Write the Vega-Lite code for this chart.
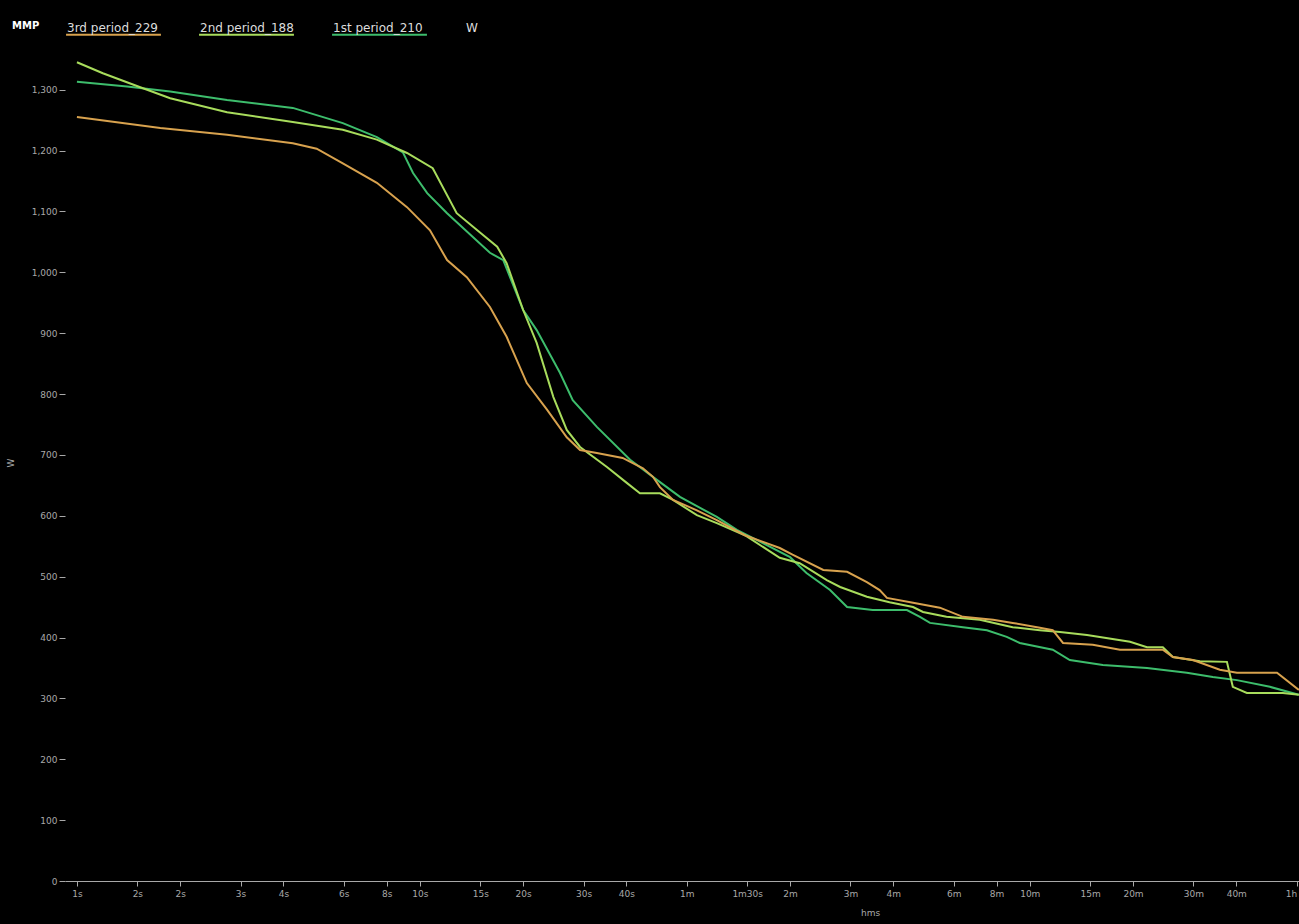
{
  "$schema": "https://vega.github.io/schema/vega-lite/v6.json",
  "width": 1234,
  "height": 837,
  "autosize": {"type": "none"},
  "padding": {"left": 65, "top": 44, "right": 0, "bottom": 43},
  "background": "#000000",
  "config": {
    "view": {"stroke": null},
    "font": "DejaVu Sans",
    "axis": {"grid": false, "labelColor": "#a8a8a8", "tickColor": "#a8a8a8", "domainColor": "#a8a8a8", "labelFont": "DejaVu Sans", "labelFontSize": 9, "titleColor": "#a8a8a8", "titleFont": "DejaVu Sans", "titleFontSize": 9, "titleFontWeight": "normal"}
  },
  "data": {"values": [
    {"p": "1st period_210", "t": 1, "w": 1313},
    {"p": "1st period_210", "t": 1.4, "w": 1305},
    {"p": "1st period_210", "t": 1.87, "w": 1297},
    {"p": "1st period_210", "t": 2.74, "w": 1283},
    {"p": "1st period_210", "t": 4.26, "w": 1270},
    {"p": "1st period_210", "t": 5.96, "w": 1245},
    {"p": "1st period_210", "t": 7.49, "w": 1222},
    {"p": "1st period_210", "t": 8.92, "w": 1197},
    {"p": "1st period_210", "t": 9.55, "w": 1163},
    {"p": "1st period_210", "t": 10.5, "w": 1130},
    {"p": "1st period_210", "t": 12.0, "w": 1097},
    {"p": "1st period_210", "t": 16.0, "w": 1032},
    {"p": "1st period_210", "t": 17.5, "w": 1020},
    {"p": "1st period_210", "t": 20.0, "w": 938},
    {"p": "1st period_210", "t": 21.9, "w": 905},
    {"p": "1st period_210", "t": 25.6, "w": 835},
    {"p": "1st period_210", "t": 27.9, "w": 790},
    {"p": "1st period_210", "t": 32.8, "w": 746},
    {"p": "1st period_210", "t": 41.0, "w": 692},
    {"p": "1st period_210", "t": 49.1, "w": 659},
    {"p": "1st period_210", "t": 57.3, "w": 631},
    {"p": "1st period_210", "t": 73.4, "w": 598},
    {"p": "1st period_210", "t": 84, "w": 577},
    {"p": "1st period_210", "t": 100, "w": 555},
    {"p": "1st period_210", "t": 120, "w": 532},
    {"p": "1st period_210", "t": 134, "w": 506},
    {"p": "1st period_210", "t": 157, "w": 478},
    {"p": "1st period_210", "t": 176, "w": 450},
    {"p": "1st period_210", "t": 209, "w": 445},
    {"p": "1st period_210", "t": 263, "w": 445},
    {"p": "1st period_210", "t": 287, "w": 434},
    {"p": "1st period_210", "t": 307, "w": 424},
    {"p": "1st period_210", "t": 383, "w": 417},
    {"p": "1st period_210", "t": 450, "w": 412},
    {"p": "1st period_210", "t": 514, "w": 401},
    {"p": "1st period_210", "t": 561, "w": 391},
    {"p": "1st period_210", "t": 700, "w": 380},
    {"p": "1st period_210", "t": 785, "w": 363},
    {"p": "1st period_210", "t": 980, "w": 355},
    {"p": "1st period_210", "t": 1318, "w": 350},
    {"p": "1st period_210", "t": 1722, "w": 342},
    {"p": "1st period_210", "t": 2050, "w": 335},
    {"p": "1st period_210", "t": 2410, "w": 330},
    {"p": "1st period_210", "t": 3008, "w": 319},
    {"p": "1st period_210", "t": 3654, "w": 306},
    {"p": "2nd period_188", "t": 1, "w": 1345},
    {"p": "2nd period_188", "t": 1.19, "w": 1327},
    {"p": "2nd period_188", "t": 1.53, "w": 1304},
    {"p": "2nd period_188", "t": 1.87, "w": 1286},
    {"p": "2nd period_188", "t": 2.74, "w": 1263},
    {"p": "2nd period_188", "t": 4.26, "w": 1247},
    {"p": "2nd period_188", "t": 5.96, "w": 1234},
    {"p": "2nd period_188", "t": 7.49, "w": 1218},
    {"p": "2nd period_188", "t": 9.17, "w": 1196},
    {"p": "2nd period_188", "t": 10.9, "w": 1171},
    {"p": "2nd period_188", "t": 12.8, "w": 1097},
    {"p": "2nd period_188", "t": 15.0, "w": 1065},
    {"p": "2nd period_188", "t": 16.8, "w": 1042},
    {"p": "2nd period_188", "t": 17.9, "w": 1015},
    {"p": "2nd period_188", "t": 20.0, "w": 938},
    {"p": "2nd period_188", "t": 21.9, "w": 884},
    {"p": "2nd period_188", "t": 24.5, "w": 795},
    {"p": "2nd period_188", "t": 26.8, "w": 741},
    {"p": "2nd period_188", "t": 29.3, "w": 713},
    {"p": "2nd period_188", "t": 35.1, "w": 680},
    {"p": "2nd period_188", "t": 40.1, "w": 654},
    {"p": "2nd period_188", "t": 43.8, "w": 637},
    {"p": "2nd period_188", "t": 50.1, "w": 637},
    {"p": "2nd period_188", "t": 54.7, "w": 626},
    {"p": "2nd period_188", "t": 64.2, "w": 601},
    {"p": "2nd period_188", "t": 73.4, "w": 588},
    {"p": "2nd period_188", "t": 88.6, "w": 568},
    {"p": "2nd period_188", "t": 112, "w": 531},
    {"p": "2nd period_188", "t": 128, "w": 522},
    {"p": "2nd period_188", "t": 154, "w": 494},
    {"p": "2nd period_188", "t": 168, "w": 483},
    {"p": "2nd period_188", "t": 201, "w": 467},
    {"p": "2nd period_188", "t": 234, "w": 458},
    {"p": "2nd period_188", "t": 274, "w": 450},
    {"p": "2nd period_188", "t": 293, "w": 442},
    {"p": "2nd period_188", "t": 343, "w": 434},
    {"p": "2nd period_188", "t": 429, "w": 429},
    {"p": "2nd period_188", "t": 535, "w": 417},
    {"p": "2nd period_188", "t": 642, "w": 412},
    {"p": "2nd period_188", "t": 735, "w": 409},
    {"p": "2nd period_188", "t": 881, "w": 404},
    {"p": "2nd period_188", "t": 1176, "w": 393},
    {"p": "2nd period_188", "t": 1318, "w": 384},
    {"p": "2nd period_188", "t": 1466, "w": 384},
    {"p": "2nd period_188", "t": 1568, "w": 368},
    {"p": "2nd period_188", "t": 1880, "w": 361},
    {"p": "2nd period_188", "t": 2254, "w": 360},
    {"p": "2nd period_188", "t": 2345, "w": 319},
    {"p": "2nd period_188", "t": 2577, "w": 309},
    {"p": "2nd period_188", "t": 3281, "w": 309},
    {"p": "2nd period_188", "t": 3654, "w": 306},
    {"p": "3rd period_229", "t": 1, "w": 1255},
    {"p": "3rd period_229", "t": 1.75, "w": 1237},
    {"p": "3rd period_229", "t": 2.74, "w": 1226},
    {"p": "3rd period_229", "t": 4.26, "w": 1212},
    {"p": "3rd period_229", "t": 5.0, "w": 1203},
    {"p": "3rd period_229", "t": 5.96, "w": 1179},
    {"p": "3rd period_229", "t": 7.49, "w": 1147},
    {"p": "3rd period_229", "t": 9.17, "w": 1107},
    {"p": "3rd period_229", "t": 10.7, "w": 1069},
    {"p": "3rd period_229", "t": 12.0, "w": 1020},
    {"p": "3rd period_229", "t": 13.7, "w": 992},
    {"p": "3rd period_229", "t": 16.0, "w": 943},
    {"p": "3rd period_229", "t": 17.9, "w": 894},
    {"p": "3rd period_229", "t": 20.5, "w": 818},
    {"p": "3rd period_229", "t": 23.5, "w": 774},
    {"p": "3rd period_229", "t": 26.8, "w": 729},
    {"p": "3rd period_229", "t": 29.3, "w": 708},
    {"p": "3rd period_229", "t": 32.8, "w": 703},
    {"p": "3rd period_229", "t": 39.0, "w": 695},
    {"p": "3rd period_229", "t": 44.7, "w": 678},
    {"p": "3rd period_229", "t": 47.8, "w": 664},
    {"p": "3rd period_229", "t": 50.1, "w": 647},
    {"p": "3rd period_229", "t": 54.7, "w": 626},
    {"p": "3rd period_229", "t": 64.2, "w": 609},
    {"p": "3rd period_229", "t": 73.4, "w": 593},
    {"p": "3rd period_229", "t": 88.6, "w": 568},
    {"p": "3rd period_229", "t": 112, "w": 547},
    {"p": "3rd period_229", "t": 122, "w": 536},
    {"p": "3rd period_229", "t": 150, "w": 511},
    {"p": "3rd period_229", "t": 176, "w": 508},
    {"p": "3rd period_229", "t": 201, "w": 491},
    {"p": "3rd period_229", "t": 219, "w": 478},
    {"p": "3rd period_229", "t": 230, "w": 465},
    {"p": "3rd period_229", "t": 274, "w": 457},
    {"p": "3rd period_229", "t": 328, "w": 449},
    {"p": "3rd period_229", "t": 383, "w": 434},
    {"p": "3rd period_229", "t": 469, "w": 429},
    {"p": "3rd period_229", "t": 535, "w": 424},
    {"p": "3rd period_229", "t": 642, "w": 416},
    {"p": "3rd period_229", "t": 700, "w": 412},
    {"p": "3rd period_229", "t": 750, "w": 391},
    {"p": "3rd period_229", "t": 916, "w": 388},
    {"p": "3rd period_229", "t": 1099, "w": 380},
    {"p": "3rd period_229", "t": 1466, "w": 380},
    {"p": "3rd period_229", "t": 1568, "w": 368},
    {"p": "3rd period_229", "t": 1794, "w": 363},
    {"p": "3rd period_229", "t": 2149, "w": 347},
    {"p": "3rd period_229", "t": 2410, "w": 342},
    {"p": "3rd period_229", "t": 3155, "w": 342},
    {"p": "3rd period_229", "t": 3654, "w": 314}
  ]},
  "mark": {"type": "line", "strokeWidth": 2, "clip": true},
  "encoding": {
    "x": {
      "field": "t", "type": "quantitative",
      "scale": {"type": "log", "domain": [0.923, 3657], "nice": false},
      "axis": {
        "title": "hms", "titleX": 805, "titleY": 27,
        "values": [1, 1.5, 2, 3, 4, 6, 8, 10, 15, 20, 30, 40, 60, 90, 120, 180, 240, 360, 480, 600, 900, 1200, 1800, 2400, 3600],
        "labelExpr": "datum.value == 1.5 ? '2s' : datum.value < 60 ? datum.value + 's' : datum.value == 90 ? '1m30s' : datum.value < 3600 ? (datum.value / 60) + 'm' : '1h'",
        "tickSize": 5, "labelPadding": 3, "labelFlush": 5, "labelOverlap": false
      }
    },
    "y": {
      "field": "w", "type": "quantitative",
      "scale": {"domain": [0, 1375], "nice": false, "zero": true},
      "axis": {
        "title": "W", "titleX": -50,
        "values": [0, 100, 200, 300, 400, 500, 600, 700, 800, 900, 1000, 1100, 1200, 1300],
        "format": ",.0f", "domain": false, "tickSize": 6, "labelPadding": 2
      }
    },
    "color": {
      "field": "p", "type": "nominal",
      "scale": {
        "domain": ["3rd period_229", "2nd period_188", "1st period_210", "W"],
        "range": ["#d8a24e", "#a8dc5c", "#3dbd6c", "#000000"]
      },
      "legend": {
        "title": ["", "MMP"], "orient": "none", "legendX": -53, "legendY": -58,
        "direction": "horizontal", "columns": 4,
        "titleOrient": "left", "titleBaseline": "top", "titleLineHeight": 17,
        "titleColor": "#ffffff", "titleFontSize": 10, "titleFontWeight": "bold", "titlePadding": 25,
        "symbolType": "stroke", "symbolSize": 9000, "symbolStrokeWidth": 2,
        "labelOffset": -95, "labelBaseline": "bottom", "labelColor": "#dddddd", "labelFontSize": 12, "labelLimit": 300,
        "columnPadding": 30
      }
    }
  }
}
